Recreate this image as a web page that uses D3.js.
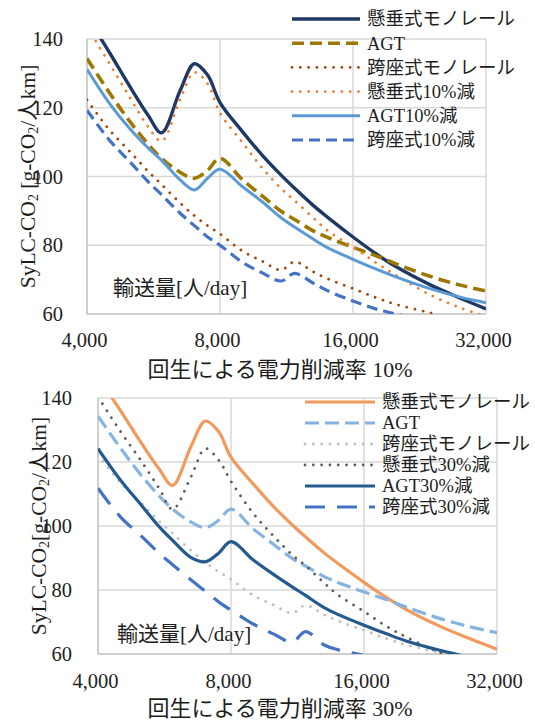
<!DOCTYPE html>
<html><head><meta charset="utf-8">
<script src="https://cdn.jsdelivr.net/npm/d3@7"></script>
<style>
body{margin:0;background:#fff}
svg{display:block}
text{font-family:"Liberation Serif","Times New Roman","Noto Sans CJK JP",serif;fill:#1e1e1e}
</style>
</head><body>
<svg id="c" width="535" height="721"></svg>
<script>
// ---- data ----
const volumes = [4000,4500,5000,5500,5900,6500,7000,7500,8000,9000,10000,11000,11800,13000,14000,16000,18000,20000,24000,28000,32000];
const suspended   = [146.5,136,126.2,117.8,112.7,125,132.8,129.5,121.5,113,106,100.4,96.6,91.6,88.2,82.4,77.6,73.8,68.4,64.6,61.5];
const agt         = [134.3,124.3,116,109.4,105.3,101.2,99.5,101.8,105.3,99,94.2,89.9,87.5,84.2,82.3,79.4,77,74.6,70.9,68.4,66.7];
const straddle    = [122.3,113.5,107.3,101.5,97.7,92.3,88.6,85.7,83.3,78.3,75.3,72.8,75.2,72.3,70.3,67.4,64.8,62.8,60.3,58,56.5];
const suspended10 = [143.5,132.8,123,114.5,110.3,122.5,130.3,127,118.5,109.8,102.3,96.5,93,88,84.3,79.5,75,71.3,65.5,61.8,59.3];
const agt10       = [131.2,121.2,113.9,108.3,104.7,99,96.1,99.5,102.1,97,92.5,88,85.3,81.8,79.3,75.9,73.1,70.8,67.3,64.9,63.3];
const straddle10  = [119.3,110.5,104.3,98.5,94.7,89.3,85.7,82.4,80,75,71.9,69.6,71.8,69,66.8,63.8,61.5,60,57.5,55.5,54];
const suspended30 = [140.4,129.5,120.5,111.8,105.2,115.5,124.2,120.6,114,103.8,96.8,91,87.6,82.2,78.4,73.3,68.6,65.2,60.2,56.8,54];
const agt30       = [124.2,114.3,106.7,99.8,95.5,90.1,88.8,91.5,95.1,89.3,84.8,81,78.3,74.5,72.3,69,66.3,64,61,58.8,57];
const straddle30  = [111.8,102.8,97,91.5,87.9,83.1,79.6,76.3,73.7,69.3,66.2,63.7,67,62.8,61.3,59.5,57.5,56,53.5,51.5,50];

const xTicks = [4000,8000,16000,32000];
const yTicks = [60,80,100,120,140];
const namesTop = ["懸垂式モノレール","AGT","跨座式モノレール","懸垂式10%減","AGT10%減","跨座式10%減"];
const namesBottom = ["懸垂式モノレール","AGT","跨座式モノレール","懸垂式30%減","AGT30%減","跨座式30%減"];
const titleTop = "回生による電力削減率 10%";
const titleBottom = "回生による電力削減率 30%";
const volumeLabel = "輸送量[人/day]";

// ---- styles ----
const DOT = {dash:"0.01 8.3", cap:"round", w:2.8};
const stylesTop = [
  {c:"#203864", w:3.4, dash:null, cap:"butt"},
  {c:"#9C7800", w:3.6, dash:"12 6", cap:"butt"},
  {c:"#9E480E", ...DOT},
  {c:"#ED7D31", ...DOT},
  {c:"#5B9BD5", w:3, dash:null, cap:"butt"},
  {c:"#4472C4", w:3.2, dash:"11 6", cap:"butt"}
];
const stylesBottom = [
  {c:"#F29A5E", w:3.2, dash:null, cap:"butt"},
  {c:"#85B4E3", w:3.2, dash:"14 6", cap:"butt"},
  {c:"#BFBFBF", ...DOT},
  {c:"#5F5F5F", ...DOT},
  {c:"#245A8E", w:3.2, dash:null, cap:"butt"},
  {c:"#4472C4", w:3.2, dash:"20 12", cap:"butt"}
];

const panels = [
  {id:"t", left:87, right:486, top:39, bottom:314, series:[suspended,agt,straddle,suspended10,agt10,straddle10],
   styles:stylesTop, names:namesTop, title:titleTop, titleY:377, tickPad:18, yPad:24,
   legX1:292, legX2:360, legTx:367, legY0:19, legStep:24.2, volY:295, volX:113,
   yTitleX:28, yTitleSpace:true},
  {id:"b", left:98, right:497, top:398, bottom:654, series:[suspended,agt,straddle,suspended30,agt30,straddle30],
   styles:stylesBottom, names:namesBottom, title:titleBottom, titleY:716, tickPad:19, yPad:26,
   legX1:305, legX2:375, legTx:382, legY0:402, legStep:21, volY:641, volX:117,
   yTitleX:39, yTitleSpace:false}
];

const svg = d3.select("#c");
const defs = svg.append("defs");

panels.forEach(p => {
  const x = d3.scaleLog().domain([4000,32000]).range([p.left,p.right]);
  const y = d3.scaleLinear().domain([60,140]).range([p.bottom,p.top]);
  const g = svg.append("g");

  // grid
  g.selectAll("line.h").data(yTicks).join("line")
    .attr("x1",p.left).attr("x2",p.right).attr("y1",d=>y(d)).attr("y2",d=>y(d))
    .attr("stroke",d=>d===60?"#BFBFBF":"#D9D9D9").attr("stroke-width",1.5);
  g.selectAll("line.v").data(xTicks).join("line")
    .attr("y1",p.top).attr("y2",p.bottom).attr("x1",d=>x(d)).attr("x2",d=>x(d))
    .attr("stroke",d=>d===4000?"#BFBFBF":"#D9D9D9").attr("stroke-width",1.5);

  // axes labels
  const ax = g.append("g").attr("transform",`translate(-3,${p.bottom})`)
    .call(d3.axisBottom(x).tickValues(xTicks).tickFormat(d3.format(",")).tickSize(0).tickPadding(p.tickPad));
  ax.select(".domain").remove();
  ax.selectAll("text").attr("font-size",20.5).attr("font-family","Liberation Serif").attr("fill","#1e1e1e");
  const ay = g.append("g").attr("transform",`translate(${p.left},0)`)
    .call(d3.axisLeft(y).tickValues(yTicks).tickSize(0).tickPadding(p.yPad));
  ay.select(".domain").remove();
  ay.selectAll("text").attr("font-size",20.5).attr("font-family","Liberation Serif").attr("fill","#1e1e1e");

  // volume label inside plot
  g.append("text").attr("x",p.volX).attr("y",p.volY).attr("font-size",21).text(volumeLabel);

  // clip
  defs.append("clipPath").attr("id","clip"+p.id).append("rect")
    .attr("x",p.left).attr("y",p.top).attr("width",p.right-p.left).attr("height",p.bottom-p.top);

  const line = d3.line().x((d,i)=>x(volumes[i])).y(d=>y(d)).curve(d3.curveCatmullRom.alpha(0.5));
  const lines = g.append("g").attr("clip-path",`url(#clip${p.id})`);
  p.series.forEach((vals,i) => {
    const s = p.styles[i];
    lines.append("path").attr("d",line(vals)).attr("fill","none")
      .attr("stroke",s.c).attr("stroke-width",s.w)
      .attr("stroke-dasharray",s.dash).attr("stroke-linecap",s.cap)
      .attr("stroke-linejoin","round");
  });

  // legend
  const lg = g.append("g");
  p.names.forEach((n,i) => {
    const s = p.styles[i];
    const yy = p.legY0 + i*p.legStep;
    lg.append("line").attr("x1",p.legX1).attr("x2",p.legX2).attr("y1",yy).attr("y2",yy)
      .attr("stroke",s.c).attr("stroke-width",s.w).attr("stroke-dasharray",s.dash).attr("stroke-linecap",s.cap);
    lg.append("text").attr("x",p.legTx).attr("y",yy).attr("dy","0.35em").attr("font-size",18.5).text(n);
  });

  // x title
  g.append("text").attr("x",280).attr("y",p.titleY).attr("text-anchor","middle").attr("font-size",22).text(p.title);

  // y title
  const cy = (p.top+p.bottom)/2;
  const yt = g.append("text").attr("transform",`translate(${p.yTitleX},${cy}) rotate(-90)`)
    .attr("text-anchor","middle").attr("dominant-baseline","central").attr("font-size",21.5);
  yt.append("tspan").text("SyLC-CO");
  yt.append("tspan").attr("font-size",14).attr("dy",5).text("2");
  yt.append("tspan").attr("dy",-5).text((p.yTitleSpace?" ":"")+"[g-CO");
  yt.append("tspan").attr("font-size",14).attr("dy",5).text("2");
  yt.append("tspan").attr("dy",-5).text("/人km]");
});
</script>
</body></html>
